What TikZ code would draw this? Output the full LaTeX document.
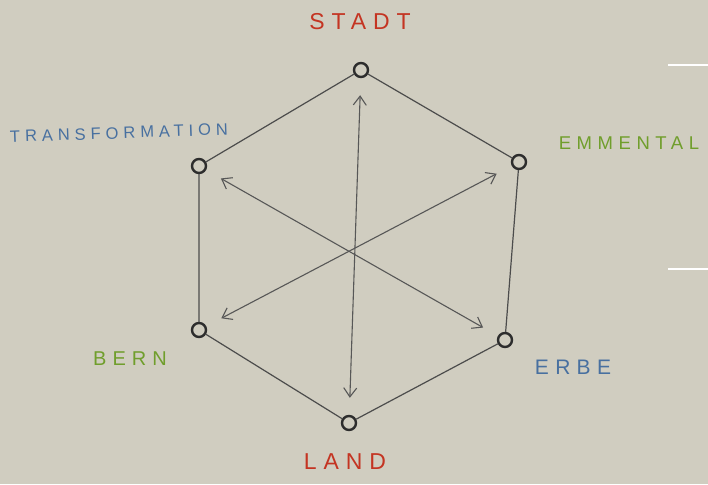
\documentclass[tikz,border=0pt]{standalone}
\usepackage{fontspec}
\newfontfamily\sketchfont[LetterSpace=30]{Liberation Sans}
\usetikzlibrary{arrows.meta,calc,positioning}
\definecolor{paper}{RGB}{208,205,192}
\definecolor{pencil}{RGB}{45,45,45}
\definecolor{inkred}{RGB}{196,52,34}
\definecolor{inkblue}{RGB}{72,112,160}
\definecolor{inkgreen}{RGB}{112,158,44}

\begin{document}
\begin{tikzpicture}[x=1pt, y=-1pt, >={Straight Barb[length=9pt,width=13pt]}]
    \tikzset{
        knot/.style={circle, draw=pencil, line width=2.4pt, fill=paper, minimum size=14pt, inner sep=0pt},
        edge/.style={draw=pencil!85, line width=1.2pt},
        axis/.style={draw=pencil!80, line width=1.1pt, shorten <=17pt, shorten >=17pt},
        lbl/.style={inner sep=1pt},
        fs/.style={font=\sketchfont\fontsize{#1}{#1}\selectfont}
    }
    
    % Papier
    \fill[paper] (0,0) rectangle (708,484);
    \useasboundingbox (0,0) rectangle (708,484);
    \draw[white, line width=1.5pt] (668,65) -- (708,65);
    \draw[white, line width=1.5pt] (668,269) -- (708,269);
    
    % Ecken des Sechsecks
    \node[knot] (stadt) at (361,70) {};
    \node[knot] (emmental) at (519,162) {};
    \node[knot] (erbe) at (505,340) {};
    \node[knot] (land) at (349,423) {};
    \node[knot] (bern) at (199,330) {};
    \node[knot] (transformation) at (199,166) {};
    
    % Kanten
    \draw[edge] (stadt) -- (emmental) -- (erbe) -- (land) -- (bern) -- (transformation) -- (stadt);
    
    % Achsen durch die Mitte
    \draw[<->, axis] (stadt) -- (land);
    \draw[<->, axis] (transformation) -- (erbe);
    \draw[<->, axis] (bern) -- (emmental);
    
    % Beschriftungen
    \node[lbl, inkred, fs=23] (stadtlbl) at (360,22) {STADT};
    \node[lbl, inkblue, fs=16.5, rotate=2] (translbl) at (119,133) {TRANSFORMATION};
    \node[lbl, inkgreen, fs=18.5] (emmlbl) at (629,143) {EMMENTAL};
    \node[lbl, inkgreen, fs=20] (bernlbl) at (130,359) {BERN};
    \node[lbl, inkblue, fs=21] (erbelbl) at (573,367) {ERBE};
    \node[lbl, inkred, fs=23] (landlbl) at (345,462) {LAND};
\end{tikzpicture}
\end{document}
